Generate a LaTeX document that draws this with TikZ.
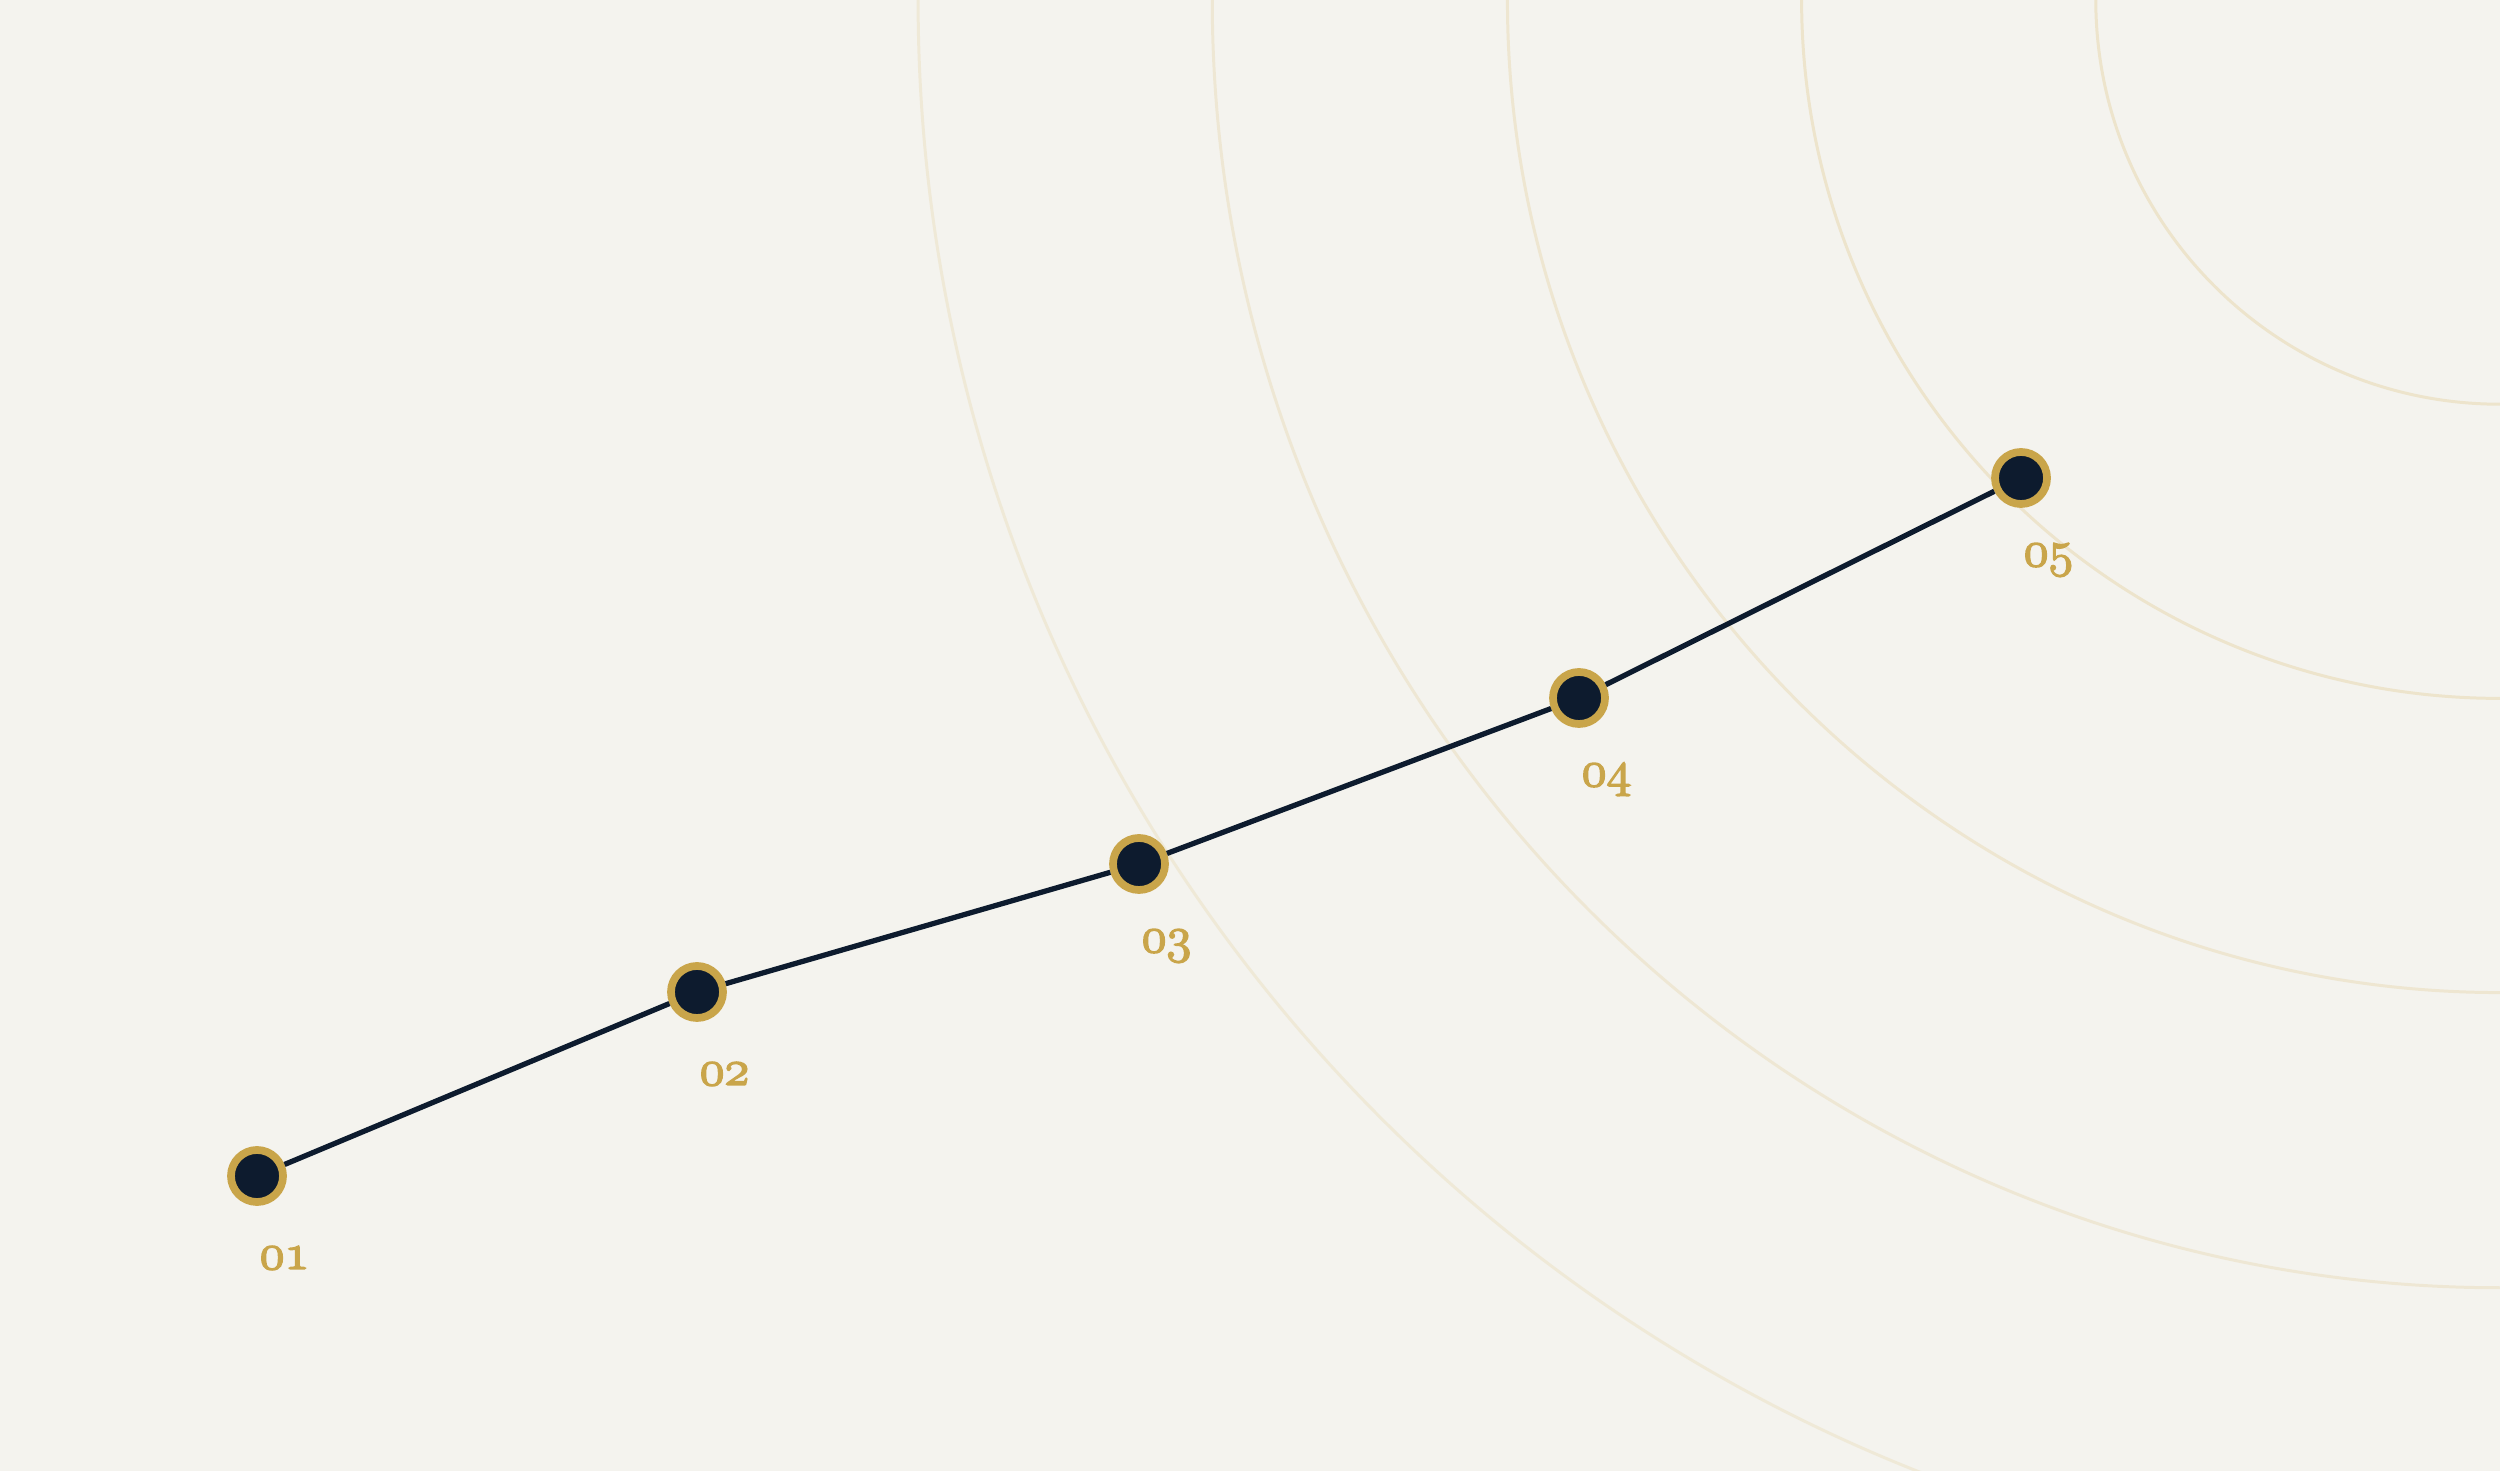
\documentclass[tikz,border=0pt]{standalone}
\definecolor{bgc}{HTML}{F4F3EE}
\definecolor{arcc}{HTML}{EDE4CC}
\definecolor{goldc}{HTML}{C9A54A}
\definecolor{navyc}{HTML}{0D1B2E}
\newcommand{\osnum}[1]{{\special{pdf:code 2 Tr 0.45 w}\usefont{OML}{cmm}{m}{it}#1\special{pdf:code 0 Tr}}}
\tikzset{
  dot/.style={circle, draw=goldc, fill=navyc, line width=2.2pt, minimum size=0.52cm, inner sep=0pt},
  lbl/.style={anchor=west, text=goldc, inner sep=0pt, font=\fontsize{14}{16}\selectfont},
  link/.style={draw=navyc, line width=1.5pt},
  ring/.style={draw=arcc, line width=0.85pt}
}
\begin{document}
\begin{tikzpicture}[x=0.01cm,y=-0.01cm]
\fill[bgc] (0,0) rectangle (2500,1471);
\useasboundingbox (0,0) rectangle (2500,1471);
\begin{scope}
\clip (0,0) rectangle (2500,1471);
\draw[ring] (2500,0) circle[radius=4.04cm];
\draw[ring] (2500,0) circle[radius=6.98cm];
\draw[ring, draw opacity=0.85] (2500,0) circle[radius=9.92cm];
\draw[ring, draw opacity=0.75] (2500,0) circle[radius=12.87cm];
\draw[ring, draw opacity=0.65] (2500,0) circle[radius=15.81cm];
\end{scope}
\node[dot] (n1) at (257,1176) {};
\node[dot] (n2) at (697,992) {};
\node[dot] (n3) at (1139,864) {};
\node[dot] (n4) at (1579,698) {};
\node[dot] (n5) at (2021,478) {};
\draw[link] (n1) -- (n2);
\draw[link] (n2) -- (n3);
\draw[link] (n3) -- (n4);
\draw[link] (n4) -- (n5);
\node[lbl] (l1) at (259,1258) {\osnum{01}};
\node[lbl] (l2) at (699,1074) {\osnum{02}};
\node[lbl] (l3) at (1141,946) {\osnum{03}};
\node[lbl] (l4) at (1581,780) {\osnum{04}};
\node[lbl] (l5) at (2023,560) {\osnum{05}};
\end{tikzpicture}
\end{document}
